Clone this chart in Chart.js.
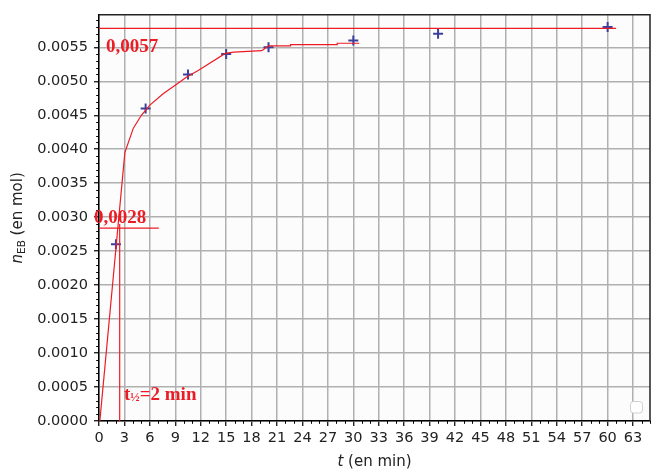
<!DOCTYPE html>
<html><head><meta charset="utf-8">
<script src="https://cdn.jsdelivr.net/npm/chart.js@4"></script>
<style>html,body{margin:0;padding:0;background:#fff;overflow:hidden}</style>
</head><body>
<canvas id="c" width="667" height="472" style="width:667px;height:472px;display:block"></canvas>
<script>
// measured points (t in min, n_EB in mol)
const times = [2, 5.5, 10.5, 15, 20, 30, 40, 60];
const nEB = [0.0026, 0.0046, 0.0051, 0.0054, 0.0055, 0.0056, 0.0057, 0.0058];
// hand-drawn red curve
const curveT = [0.1, 3.05, 4.05, 5.0, 6.0, 7.6, 9.2, 10.3, 11.7, 14.9, 15.9, 19.2, 20.0, 22.6, 22.6, 28.1, 28.1, 30.7];
const curveN = [0, 0.00395, 0.00431, 0.0045, 0.00465, 0.00482, 0.00496, 0.00506, 0.00516, 0.00541, 0.00543, 0.00545, 0.00552, 0.00552, 0.00554, 0.00554, 0.00556, 0.00556];
// construction lines
const finalT = [0, 61];
const finalN = [0.00578, 0.00578];
const halfT = [0, 7.05];
const halfN = [0.00284, 0.00284];
const tHalfT = [2.44, 2.44];
const tHalfN = [0, 0.0029];
// ticks
const xTickValues = [0,3,6,9,12,15,18,21,24,27,30,33,36,39,42,45,48,51,54,57,60,63];
const yTickValues = [0,0.0005,0.001,0.0015,0.002,0.0025,0.003,0.0035,0.004,0.0045,0.005,0.0055];
const xMax = 65, yMax = 0.00598;
const labelFinal = '0,0057', labelHalf = '0,0028';
const labelT = ['t', '½', '=2 min'];

const RED = '#ec1c24';
const pts = (xs, ys) => xs.map((x, i) => ({x, y: ys[i]}));
const lineDs = (xs, ys) => ({data: pts(xs, ys), showLine: true, borderColor: RED, borderWidth: 1.2, pointRadius: 0, tension: 0, fill: false});

const decor = {
  id: 'decor',
  beforeDraw(chart) {
    const {ctx, chartArea: a} = chart;
    ctx.save();
    ctx.fillStyle = '#fcfcfd';
    ctx.fillRect(a.left, a.top, a.right - a.left, a.bottom - a.top);
    ctx.restore();
  },
  afterDraw(chart) {
    const {ctx, chartArea: a, scales: {x, y}} = chart;
    ctx.save();
    // frame top/right
    ctx.strokeStyle = '#222';
    ctx.lineWidth = 1.5;
    ctx.beginPath();
    ctx.moveTo(a.left, a.top); ctx.lineTo(a.right, a.top); ctx.lineTo(a.right, a.bottom);
    ctx.stroke();
    // minor ticks
    ctx.strokeStyle = '#000';
    ctx.lineWidth = 1;
    ctx.beginPath();
    for (let t = 0; t <= xMax; t++) {
      if (t % 3 === 0) continue;
      const px = Math.round(x.getPixelForValue(t)) + 0.5;
      ctx.moveTo(px, a.bottom); ctx.lineTo(px, a.bottom + 2.8);
    }
    for (let k = 0; k <= 59; k++) {
      if (k % 5 === 0) continue;
      const py = Math.round(y.getPixelForValue(k * 0.0001)) + 0.5;
      ctx.moveTo(a.left, py); ctx.lineTo(a.left - 2.8, py);
    }
    ctx.stroke();
    // legend box (empty)
    ctx.strokeStyle = '#cfcfcf';
    ctx.fillStyle = '#ffffff';
    ctx.lineWidth = 1;
    ctx.beginPath();
    ctx.roundRect(a.right - 19.5, a.bottom - 19.5, 12, 11.5, 3);
    ctx.fill(); ctx.stroke();
    // annotations
    ctx.fillStyle = RED;
    ctx.textBaseline = 'alphabetic';
    ctx.textAlign = 'left';
    ctx.font = 'bold 19px "Liberation Serif"';
    ctx.fillText(labelFinal, a.left + 7, a.top + 37.5);
    ctx.fillText(labelHalf, a.left - 5, a.top + 208);
    let tx = a.left + 25, ty = a.bottom - 21;
    ctx.font = 'bold 19px "Liberation Serif"';
    ctx.fillText(labelT[0], tx, ty); tx += ctx.measureText(labelT[0]).width;
    ctx.font = 'bold 12.5px "Liberation Serif"';
    ctx.fillText(labelT[1], tx, ty + 1); tx += ctx.measureText(labelT[1]).width;
    ctx.font = 'bold 19px "Liberation Serif"';
    ctx.fillText(labelT[2], tx, ty);
    // axis titles
    ctx.fillStyle = '#222';
    const it = 'italic 15px "DejaVu Sans"', rg = '15px "DejaVu Sans"', sb = '10.5px "DejaVu Sans"';
    // x title
    ctx.font = it; const w1 = ctx.measureText('t').width;
    ctx.font = rg; const w2 = ctx.measureText(' (en min)').width;
    let sx = (a.left + a.right) / 2 - (w1 + w2) / 2;
    ctx.font = it; ctx.fillText('t', sx, 465.5);
    ctx.font = rg; ctx.fillText(' (en min)', sx + w1, 465.5);
    // y title
    ctx.font = it; const v1 = ctx.measureText('n').width;
    ctx.font = sb; const v2 = ctx.measureText('EB').width;
    ctx.font = rg; const v3 = ctx.measureText(' (en mol)').width;
    const tot = v1 + v2 + v3;
    ctx.translate(22, (a.top + a.bottom) / 2);
    ctx.rotate(-Math.PI / 2);
    let s = -tot / 2;
    ctx.font = it; ctx.fillText('n', s, 0); s += v1;
    ctx.font = sb; ctx.fillText('EB', s, 3); s += v2;
    ctx.font = rg; ctx.fillText(' (en mol)', s, 0);
    ctx.restore();
  }
};

new Chart(document.getElementById('c'), {
  type: 'scatter',
  data: {
    datasets: [
      lineDs(curveT, curveN),
      lineDs(finalT, finalN),
      lineDs(halfT, halfN),
      lineDs(tHalfT, tHalfN),
      {data: pts(times, nEB), pointStyle: 'cross', pointRadius: 5, pointHoverRadius: 5, borderWidth: 2, borderColor: '#3b409e', backgroundColor: '#3b409e', showLine: false}
    ]
  },
  options: {
    responsive: false,
    animation: false,
    devicePixelRatio: 1,
    layout: {padding: {left: 0, top: 12, right: 17, bottom: 0}},
    plugins: {legend: {display: false}, tooltip: {enabled: false}},
    scales: {
      x: {
        type: 'linear', min: 0, max: xMax,
        afterBuildTicks: s => { s.ticks = xTickValues.map(v => ({value: v})); },
        afterFit: s => { s.height = 51; },
        ticks: {font: {family: 'DejaVu Sans', size: 14.5}, color: '#222', padding: 4, maxRotation: 0, autoSkip: false},
        grid: {color: '#b0b0b0', lineWidth: 1.5, tickColor: '#000', tickLength: 5, tickWidth: 1.2},
        border: {display: true, color: '#000', width: 1.5}
      },
      y: {
        type: 'linear', min: 0, max: yMax,
        afterBuildTicks: s => { s.ticks = yTickValues.map(v => ({value: v})); },
        afterFit: s => { s.width = 99; },
        ticks: {font: {family: 'DejaVu Sans', size: 14.5}, color: '#222', padding: 6, callback: v => v.toFixed(4), autoSkip: false},
        grid: {color: '#b0b0b0', lineWidth: 1.5, tickColor: '#000', tickLength: 5, tickWidth: 1.2},
        border: {display: true, color: '#000', width: 1.5}
      }
    }
  },
  plugins: [decor]
});
</script>
</body></html>
